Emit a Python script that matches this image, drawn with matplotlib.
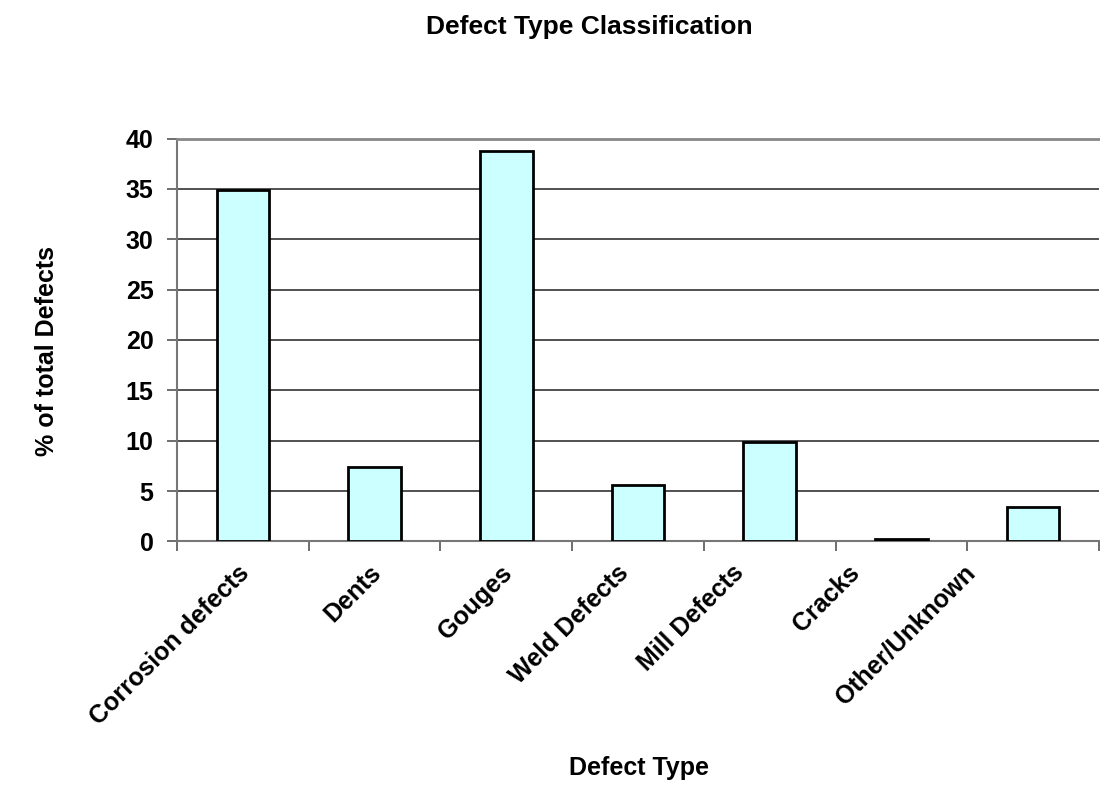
import matplotlib.pyplot as plt
import matplotlib.transforms as mtransforms

plt.rcParams['font.family'] = ['Liberation Sans', 'DejaVu Sans']
plt.rcParams['font.weight'] = 'bold'

categories = ["Corrosion defects", "Dents", "Gouges", "Weld Defects",
              "Mill Defects", "Cracks", "Other/Unknown"]
percent = [34.9, 7.4, 38.8, 5.6, 9.9, 0.2, 3.4]

fig = plt.figure(figsize=(11, 7.87), dpi=100)
ax = fig.add_axes([0.161, 0.312, 0.838, 0.512])

x = range(len(categories))
ax.bar(x, percent, width=0.4, color="#ccffff", edgecolor="black", linewidth=2, zorder=3)

ax.set_xlim(-0.5, len(categories) - 0.5)
ax.set_ylim(0, 40)
ax.set_yticks(range(0, 41, 5))
ax.yaxis.grid(True, color="#333333", linewidth=1.2, zorder=0)

# ticks sit on category boundaries, labels on the minor ticks at bar centres
ax.set_xticks([i - 0.5 for i in range(len(categories) + 1)])
ax.set_xticklabels([])
ax.set_xticks(list(x), minor=True)
ax.set_xticklabels(categories, minor=True, rotation=45, ha="right",
                   rotation_mode="anchor", fontsize=18, fontweight="bold")
ax.tick_params(axis="x", which="minor", length=0, pad=14)
ax.tick_params(axis="x", which="major", length=7, color="#555555", width=1.2)
ax.tick_params(axis="y", labelsize=18, length=7, color="#555555", width=1.2, pad=10)

# nudge rotated labels (pixels) the way the spreadsheet packs them
shift = [-6, -6, -6, -22, -38, -54, -70]
for lab, dx in zip(ax.get_xticklabels(minor=True), shift):
    off = mtransforms.ScaledTranslation(dx / 100, 0, fig.dpi_scale_trans)
    lab.set_transform(lab.get_transform() + off)

ax.spines["right"].set_visible(False)
ax.spines["top"].set_color("#888888")
ax.spines["top"].set_linewidth(2)
for s in ["left", "bottom"]:
    ax.spines[s].set_color("#777777")
    ax.spines[s].set_linewidth(1.5)

fig.text(0.536, 0.957, "Defect Type Classification", ha="center", va="baseline",
         fontsize=19, fontweight="bold")
fig.text(0.581, 0.015, "Defect Type", ha="center", va="baseline",
         fontsize=18, fontweight="bold")
fig.text(0.043, 0.554, "% of total Defects", ha="center", va="center",
         rotation=90, fontsize=18, fontweight="bold")

fig.savefig("out.png", dpi=100)
